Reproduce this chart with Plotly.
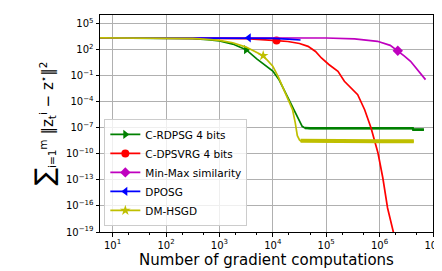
import plotly.graph_objects as go

# ---------------- data ----------------
green_x = [5.0, 100, 316, 600, 1000, 1780, 3160, 5010, 7080, 10000, 13200, 17400,
           21400, 26300, 31600, 35500, 39800, 50100, 1e5, 1e6, 4.17e6, 4.27e6, 6.76e6]
green_y = [2290, 2190, 1905, 1445, 1047, 447, 100, 8.91, 1.585, 0.355, 0.0316, 1e-3,
           6.31e-5, 5.01e-6, 5.01e-7, 1.51e-7, 9.55e-8, 8.91e-8, 8.91e-8, 8.91e-8,
           8.91e-8, 6.31e-8, 6.31e-8]
green_mark = 6
green_plateau_start = 16

red_x = [5.0, 1000, 3160, 11750, 19100, 31600, 45700, 63100, 81300, 112000, 166000,
         219000, 295000, 389000, 525000, 692000, 933000, 1.15e6, 1.41e6, 1.78e6, 1.91e6]
red_y = [2290, 2240, 1905, 1122, 891, 525, 245, 63.1, 11.2, 2.0, 0.324, 0.0229,
         3.98e-3, 6.61e-4, 1.23e-5, 9.55e-8, 1.26e-10, 1.66e-13, 5.89e-17, 1.26e-19,
         2.51e-20]
red_mark = 3

mag_x = [5.0, 1000, 1e4, 1e5, 339000, 912000, 1.58e6, 2.19e6, 2.88e6, 3.8e6, 5.25e6, 7.24e6]
mag_y = [2340, 2340, 2290, 2240, 1780, 933, 316, 77.6, 20, 4.68, 0.447, 0.0355]
mag_mark = 7

blue_x = [5.0, 1000, 3550, 10000, 19100, 33100]
blue_y = [2400, 2400, 2340, 2000, 1660, 1320]
blue_mark = 2

yel_x = [5.0, 100, 316, 600, 1000, 1780, 3160, 6610, 10000, 12600, 15500, 19100,
         23400, 26300, 28800, 31600, 33100, 1e5, 1e6, 4.37e6]
yel_y = [2290, 2240, 2000, 1585, 1202, 631, 200, 20.4, 1.26, 0.0794, 3.98e-3,
         2.24e-4, 1.26e-5, 3.98e-7, 1.26e-8, 3.98e-9, 3.16e-9, 2.82e-9, 2.82e-9, 2.82e-9]
yel_mark = 7
yel_plateau_start = 16

series = [
    ("C-RDPSG 4 bits", green_x, green_y, green_mark, "#008000", "triangle-right", green_plateau_start, 2.6),
    ("C-DPSVRG 4 bits", red_x, red_y, red_mark, "#ff0000", "circle", None, None),
    ("Min-Max similarity", mag_x, mag_y, mag_mark, "#bf00bf", "diamond", None, None),
    ("DPOSG", blue_x, blue_y, blue_mark, "#0000ff", "triangle-left", None, None),
    ("DM-HSGD", yel_x, yel_y, yel_mark, "#bfbf00", "star", yel_plateau_start, 4.0),
]

y_tick_exp = [5, 2, -1, -4, -7, -10, -13, -16, -19]
x_tick_exp = [1, 2, 3, 4, 5, 6, 7]

FONT = "DejaVu Sans"

fig = go.Figure()
for name, xs, ys, mk, col, sym, ps, pwid in series:
    fig.add_trace(go.Scatter(
        x=xs, y=ys, name=name, mode="lines+markers", legendgroup=name,
        line=dict(color=col, width=1.7),
        marker=dict(color=col, symbol=sym, size=8, line=dict(width=0)),
        selectedpoints=[mk],
        selected=dict(marker=dict(opacity=1)),
        unselected=dict(marker=dict(opacity=0)),
    ))
    if ps is not None:
        # noisy plateau in the reference is drawn as a thicker band
        fig.add_trace(go.Scatter(
            x=xs[ps:], y=ys[ps:], mode="lines", legendgroup=name, showlegend=False,
            line=dict(color=col, width=pwid), hoverinfo="skip",
        ))

def pw(e):
    s = str(e).replace("-", "\u2212")
    return "10<sup>" + s + "</sup>"

fig.update_layout(
    width=442, height=271,
    margin=dict(l=92, r=17, t=7, b=47),
    paper_bgcolor="white", plot_bgcolor="white",
    font=dict(family=FONT, color="black", size=10),
    showlegend=True,
    legend=dict(
        x=0.013, y=0.028, xanchor="left", yanchor="bottom",
        bgcolor="rgba(255,255,255,0.8)", bordercolor="#cccccc", borderwidth=1,
        font=dict(family=FONT, size=10.5, color="black"),
        itemwidth=30, tracegroupgap=0,
    ),
)

fig.update_xaxes(
    type="log", range=[0.764, 7],
    tickvals=[10 ** e for e in x_tick_exp], ticktext=[pw(e) for e in x_tick_exp],
    ticks="outside", ticklen=3.5, tickcolor="black", tickfont=dict(size=10),
    showgrid=True, gridcolor="#b0b0b0", gridwidth=0.8,
    showline=True, linecolor="black", linewidth=1, mirror=True,
    zeroline=False,
    minor=dict(ticks="outside", ticklen=2, tickcolor="black", showgrid=False),
    title=dict(text="Number of gradient computations", font=dict(size=15), standoff=2),
)
fig.update_yaxes(
    type="log", range=[-19, 6],
    tickvals=[10.0 ** e for e in y_tick_exp], ticktext=[pw(e) for e in y_tick_exp],
    ticks="outside", ticklen=3.5, tickcolor="black", tickfont=dict(size=10),
    showgrid=True, gridcolor="#b0b0b0", gridwidth=0.8,
    showline=True, linecolor="black", linewidth=1, mirror=True,
    zeroline=False,
    title=dict(
        text='<span style="font-size:26px">\u2211</span><sub>i=1</sub><sup>m</sup> '
             '\u2016z<sub>t</sub><sup>i</sup> \u2212 z<sup>\u22c6</sup>\u2016<sup>2</sup>',
        font=dict(size=15), standoff=8),
)

fig.write_html("out.html")
